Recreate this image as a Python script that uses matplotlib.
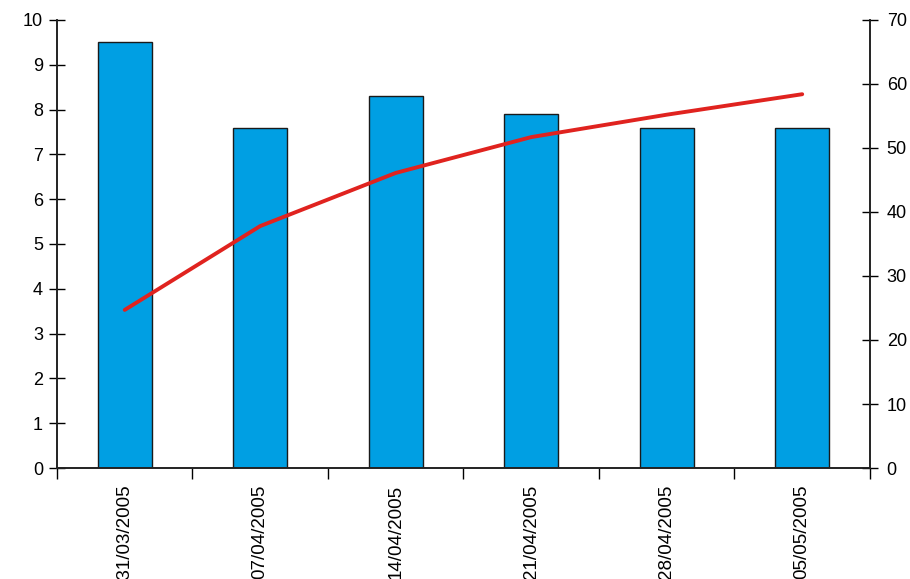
import matplotlib
matplotlib.use("Agg")
import matplotlib.pyplot as plt
import numpy as np

plt.rcParams['font.family'] = ['Liberation Sans', 'DejaVu Sans']

categories = ["'31/03/2005", "07/04/2005", "14/04/2005", "21/04/2005", "28/04/2005", "05/05/2005"]
bar_values = [9.5, 7.6, 8.3, 7.9, 7.6, 7.6]
line_values = [24.7, 37.8, 46.1, 51.7, 55.2, 58.4]
left_ticks = list(range(0, 11))
right_ticks = list(range(0, 71, 10))

fig = plt.figure(figsize=(9.1, 5.79), dpi=100)
ax = fig.add_axes([0.0626, 0.1917, 0.8934, 0.7738])
ax2 = ax.twinx()

x = np.arange(len(categories))
ax.bar(x, bar_values, width=0.4, color='#009FE3', edgecolor='#1a1a1a', linewidth=1.0, zorder=2)
ax2.plot(x, line_values, color='#E0231F', linewidth=2.8, solid_capstyle='round', zorder=3)

ax.set_xlim(-0.5, len(categories) - 0.5)
ax.set_ylim(0, 10)
ax2.set_ylim(0, 70)
ax.set_yticks(left_ticks)
ax2.set_yticks(right_ticks)

ax.set_xticks(np.arange(-0.5, len(categories), 1.0))
ax.set_xticklabels([])
ax.set_xticks(x, minor=True)
ax.set_xticklabels(categories, minor=True, rotation=90, fontsize=13.5, va='top')
ax.tick_params(axis='x', which='major', direction='out', length=8, width=1)
ax.tick_params(axis='x', which='minor', length=0, pad=12)

ax.tick_params(axis='y', direction='inout', length=12, width=1, labelsize=13, pad=4)
ax2.tick_params(axis='y', direction='inout', length=12, width=1, labelsize=13, pad=6)

for a in (ax, ax2):
    a.spines['top'].set_visible(False)
    for s in ('left', 'right', 'bottom'):
        a.spines[s].set_linewidth(1.2)
        a.spines[s].set_color('#222222')

fig.savefig('out.png', dpi=100)
